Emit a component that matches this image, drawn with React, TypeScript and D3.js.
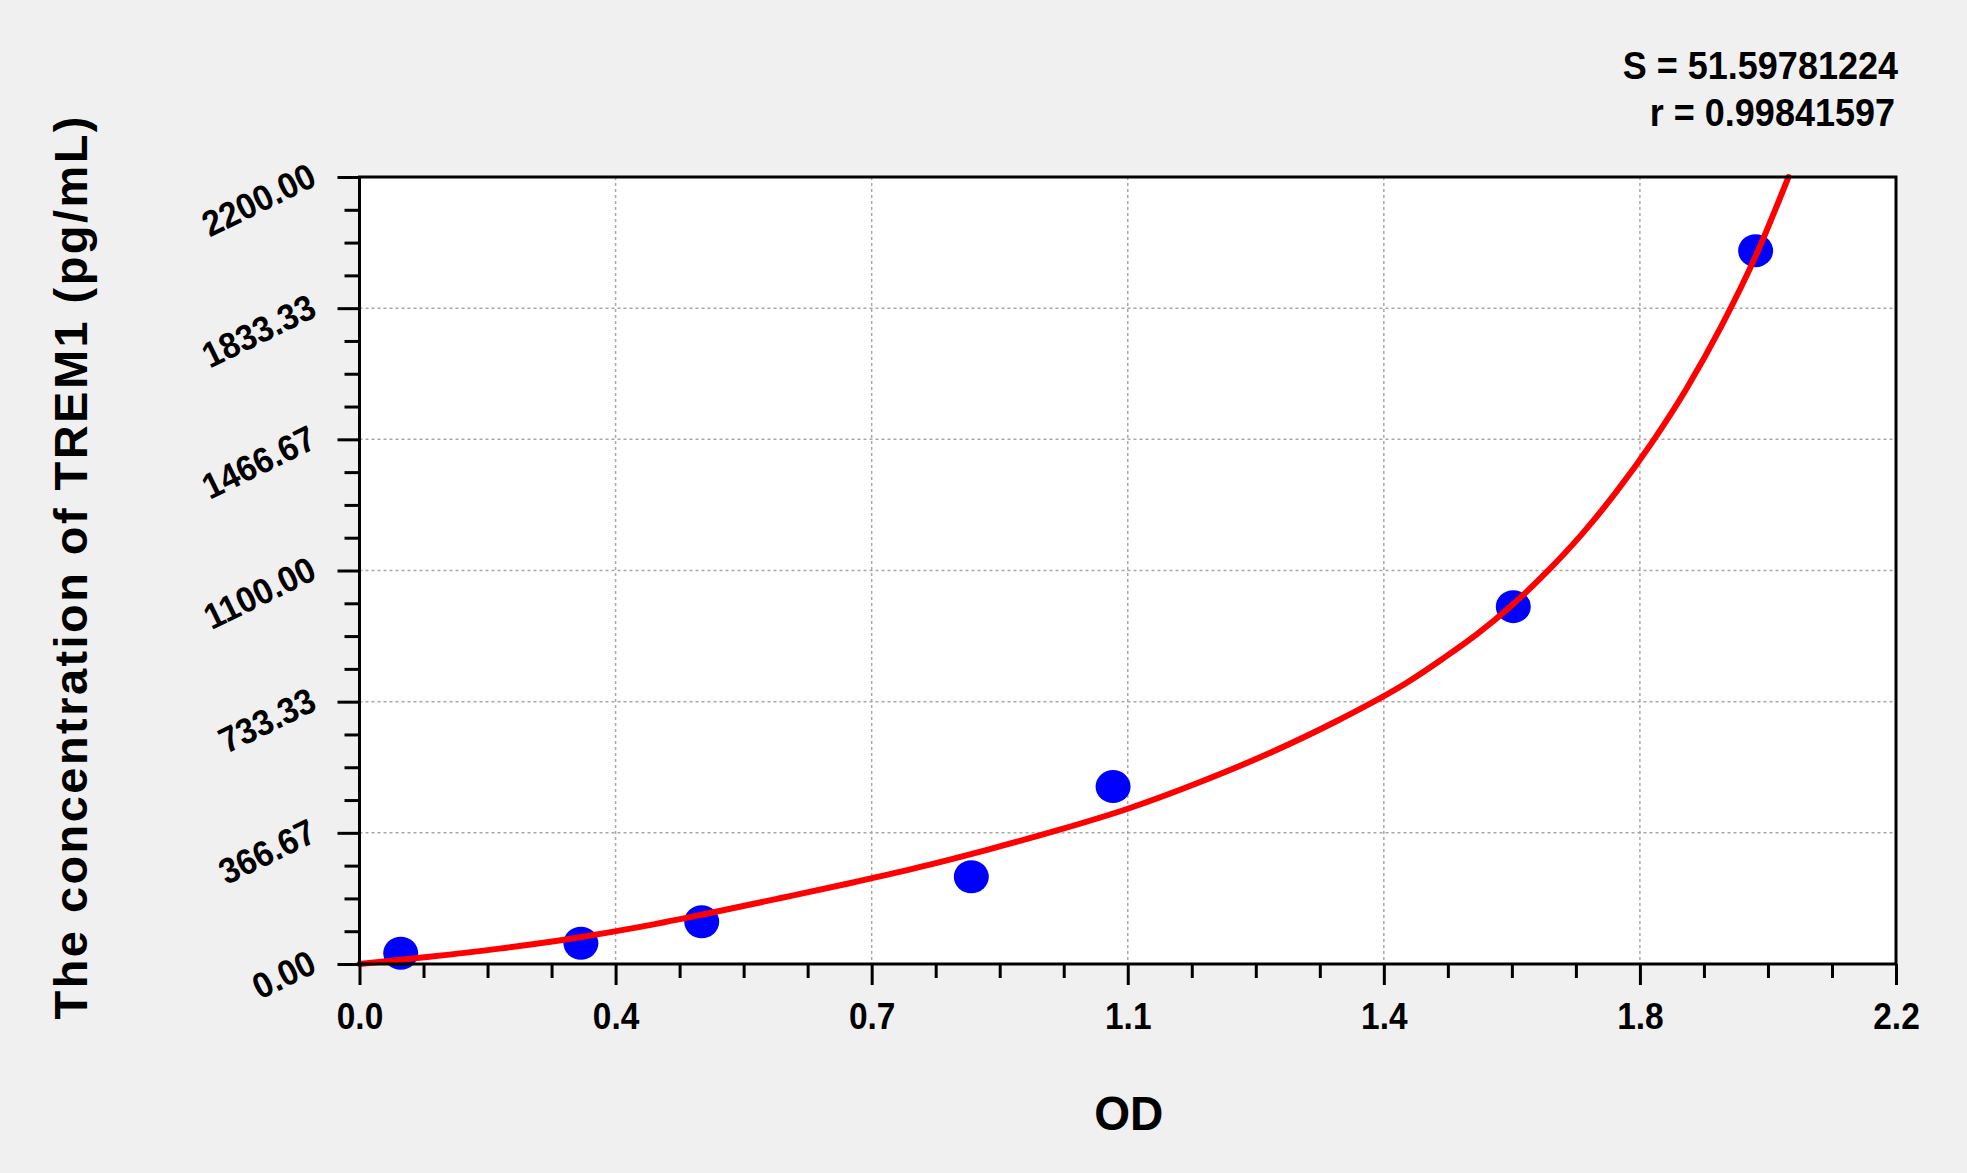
// React
import { useEffect, useRef } from 'react';

// Installed Packages
import * as d3 from 'd3';


// Standards (OD vs concentration)
const standardOD = [0.059, 0.317, 0.490, 0.876, 1.079, 1.652, 1.999];
const standardConc = [30, 58, 118, 244, 496, 999, 1994];

// Fitted curve, sampled along the red line
const fitOD = [0, 0.1, 0.2, 0.3, 0.4, 0.5, 0.6, 0.7, 0.8, 0.9, 1.0, 1.1, 1.2, 1.3, 1.4, 1.5, 1.55, 1.6, 1.65, 1.7, 1.75, 1.8, 1.85, 1.9, 1.95, 2.0, 2.046];
const fitConc = [0, 20, 43, 70, 103, 142, 183, 225, 270, 320, 374, 434, 506, 587, 680, 787, 852, 922, 1003, 1096, 1201, 1321, 1456, 1608, 1783, 1983, 2200];

// Axes
const xTickValues = [0, 0.36667, 0.73333, 1.1, 1.46667, 1.83333, 2.2];
const xTickLabels = ['0.0', '0.4', '0.7', '1.1', '1.4', '1.8', '2.2'];
const yTickValues = [0, 366.67, 733.33, 1100, 1466.67, 1833.33, 2200];
const yTickLabels = ['0.00', '366.67', '733.33', '1100.00', '1466.67', '1833.33', '2200.00'];

const statsLines = ['S = 51.59781224', 'r = 0.99841597'];
const xTitle = 'OD';
const yTitle = 'The concentration of TREM1 (pg/mL)';

const FONT = '"Liberation Sans", Arial, sans-serif';


// squeeze text horizontally, the original font is a little narrower than Arial
function condense(sel: d3.Selection<any, any, any, any>, k: number) {
    sel.each(function () {
        const node = this as SVGTextElement;
        const w = node.getComputedTextLength();
        node.setAttribute("textLength", String(w * k));
        node.setAttribute("lengthAdjust", "spacingAndGlyphs");
    });
}


export default function App() {

    let ref = useRef<HTMLDivElement>(null);

    useEffect(() => {

        d3.select(ref.current).html("");

        const W = 1967, H = 1173;
        const margin = { top: 177, right: 71, bottom: 209, left: 359.5 };
        const width = W - margin.left - margin.right;
        const height = H - margin.top - margin.bottom;

        const root = d3.select(ref.current)
            .append("svg")
            .attr("width", W)
            .attr("height", H)
            .style("display", "block");

        root.append("rect").attr("width", W).attr("height", H).attr("fill", "#f0f0f0");

        const svg = root.append("g").attr("transform", `translate(${margin.left}, ${margin.top})`);

        const x = d3.scaleLinear().domain([0, 2.2]).range([0, width]);
        const y = d3.scaleLinear().domain([0, 2200]).range([height, 0]);

        // minor ticks: 3 between each pair of majors
        const xMinor: number[] = [];
        const yMinor: number[] = [];
        for (let i = 0; i < xTickValues.length - 1; i++) {
            for (let k = 1; k < 4; k++) {
                xMinor.push(xTickValues[i] + (xTickValues[i + 1] - xTickValues[i]) * k / 4);
                yMinor.push(yTickValues[i] + (yTickValues[i + 1] - yTickValues[i]) * k / 4);
            }
        }

        // Plot area
        svg.append("rect").attr("width", width).attr("height", height).attr("fill", "#ffffff");

        // Grid
        const grid = svg.append("g").attr("stroke", "#a8a8a8").attr("stroke-width", 1.5).attr("stroke-dasharray", "3,3");
        grid.selectAll("line.gx")
            .data(xTickValues.slice(1, -1))
            .join("line")
            .attr("x1", d => x(d)).attr("x2", d => x(d))
            .attr("y1", 0).attr("y2", height);
        grid.selectAll("line.gy")
            .data(yTickValues.slice(1, -1))
            .join("line")
            .attr("class", "gy")
            .attr("x1", 0).attr("x2", width)
            .attr("y1", d => y(d)).attr("y2", d => y(d));

        // Standards
        svg.append("g")
            .selectAll("ellipse")
            .data(standardOD.map((od, i) => ({ od, c: standardConc[i] })))
            .join("ellipse")
            .attr("cx", d => x(d.od))
            .attr("cy", d => y(d.c))
            .attr("rx", 17.5)
            .attr("ry", 16.5)
            .attr("fill", "#0000ff");

        // Fitted curve
        const line = d3.line<number>()
            .x((d, i) => x(fitOD[i]))
            .y(d => y(d))
            .curve(d3.curveMonotoneX);

        svg.append("path")
            .datum(fitConc)
            .attr("d", line)
            .attr("fill", "none")
            .attr("stroke", "#ff0000")
            .attr("stroke-width", 6)
            .attr("stroke-linecap", "round");

        // Frame
        svg.append("rect")
            .attr("width", width).attr("height", height)
            .attr("fill", "none").attr("stroke", "#000").attr("stroke-width", 3);

        // Bottom axis
        const bottom = svg.append("g").attr("transform", `translate(0, ${height})`);
        bottom.append("g")
            .call(d3.axisBottom(x).tickValues(xMinor).tickSize(14).tickFormat(() => ""))
            .call(g => g.select(".domain").remove());
        const bx = bottom.append("g")
            .call(d3.axisBottom(x).tickValues(xTickValues).tickSize(21).tickFormat((d, i) => xTickLabels[i]))
            .call(g => g.select(".domain").remove());
        bottom.selectAll("line").attr("stroke", "#000").attr("stroke-width", 3);
        const xLabels = bx.selectAll("text")
            .attr("y", 65).attr("dy", 0)
            .attr("fill", "#000")
            .style("font-family", FONT).style("font-weight", "bold").style("font-size", "36px");
        condense(xLabels, 0.93);

        // Left axis
        const left = svg.append("g");
        left.append("g")
            .call(d3.axisLeft(y).tickValues(yMinor).tickSize(15).tickFormat(() => ""))
            .call(g => g.select(".domain").remove());
        const ly = left.append("g")
            .call(d3.axisLeft(y).tickValues(yTickValues).tickSize(22).tickFormat((d, i) => yTickLabels[i]))
            .call(g => g.select(".domain").remove());
        left.selectAll("line").attr("stroke", "#000").attr("stroke-width", 3);
        const yLabels = ly.selectAll("text")
            .attr("x", 0).attr("dy", 0)
            .attr("transform", "translate(-41, 7) rotate(-26)")
            .attr("text-anchor", "end")
            .attr("fill", "#000")
            .style("font-family", FONT).style("font-weight", "bold").style("font-size", "36px");
        condense(yLabels, 0.93);

        // Titles
        const xt = root.append("text")
            .attr("x", margin.left + width / 2 + 1)
            .attr("y", 1130)
            .attr("text-anchor", "middle")
            .style("font-family", FONT).style("font-weight", "bold").style("font-size", "48px")
            .text(xTitle);
        condense(xt, 0.96);

        root.append("text")
            .attr("transform", "translate(87, 568) rotate(-90)")
            .attr("text-anchor", "middle")
            .attr("textLength", 903)
            .attr("lengthAdjust", "spacing")
            .style("font-family", FONT).style("font-weight", "bold").style("font-size", "47px")
            .text(yTitle);

        // Fit statistics
        const stats = root.append("g")
            .selectAll("text")
            .data(statsLines)
            .join("text")
            .attr("x", (d, i) => i === 0 ? 1898 : 1895)
            .attr("y", (d, i) => 79 + i * 47)
            .attr("text-anchor", "end")
            .style("font-family", FONT).style("font-weight", "bold").style("font-size", "38.5px")
            .text(d => d);
        condense(stats, 0.935);

    }, [])

    return <div ref={ref} style={{ position: 'absolute', left: 0, top: 0 }}></div>
}
